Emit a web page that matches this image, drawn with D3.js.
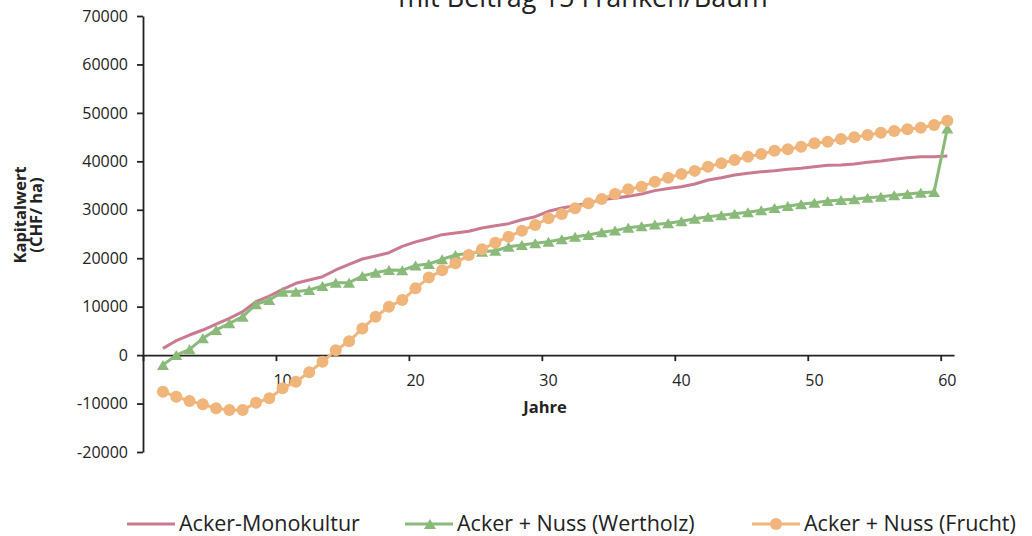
<!DOCTYPE html>
<html>
<head>
<meta charset="utf-8">
<script src="https://cdn.jsdelivr.net/npm/d3@7"></script>
<style>
  html, body { margin: 0; padding: 0; background: #fff; }
  svg { display: block; }
  text { font-family: "Open Sans", "Noto Sans", sans-serif; fill: #222; }
</style>
</head>
<body>
<svg id="chart" width="1032" height="536"></svg>
<script>
// Years shown on the category axis (0 is an empty slot before year 1)
const categories = d3.range(0, 61);
const years = d3.range(1, 61);

// Net present value per hectare (CHF/ha), years 1..60
const monokultur = [
  1400, 2980, 4150, 5180, 6420, 7590, 8960, 11020, 12200, 13580,
  14820, 15500, 16190, 17570, 18740, 19840, 20460, 21140, 22450, 23380,
  24070, 24860, 25210, 25560, 26240, 26720, 27130, 27950, 28570, 29680,
  30370, 30840, 31400, 32100, 32400, 32770, 33250, 33950, 34390, 34750,
  35320, 36150, 36600, 37180, 37530, 37860, 38070, 38360, 38560, 38890,
  39180, 39240, 39450, 39800, 40070, 40420, 40750, 40960, 40960, 41100
];
const wertholz = [
  -2040, 0, 1200, 3470, 5180, 6560, 7930, 10490, 11370, 13090,
  13090, 13440, 14260, 14950, 14950, 16330, 17010, 17570, 17500, 18500,
  18800, 19780, 20660, 21010, 21350, 21550, 22380, 22730, 23080, 23410,
  23910, 24440, 24790, 25380, 25700, 26280, 26600, 26950, 27230, 27650,
  28140, 28570, 28860, 29190, 29480, 29890, 30370, 30780, 31130, 31460,
  31810, 32020, 32160, 32490, 32700, 32990, 33260, 33530, 33650, 46800
];
const frucht = [
  -7550, -8590, -9480, -10160, -10990, -11330, -11330, -9830, -8920, -6850,
  -5490, -3520, -1360, 980, 2840, 5500, 7930, 9990, 11370, 13790,
  16000, 17500, 18950, 20660, 21840, 23200, 24440, 25680, 26860, 28240,
  29130, 30310, 31340, 32230, 33260, 34230, 34770, 35800, 36620, 37390,
  38030, 38900, 39590, 40280, 40960, 41510, 42200, 42480, 43020, 43720,
  44050, 44610, 44960, 45440, 45910, 46260, 46610, 46940, 47500, 48390
];

const yTicks = [-20000, -10000, 0, 10000, 20000, 30000, 40000, 50000, 60000, 70000];
const xTickLabels = [10, 20, 30, 40, 50, 60];

const seriesNames = ["Acker-Monokultur", "Acker + Nuss (Wertholz)", "Acker + Nuss (Frucht)"];
const colors = { mono: "#c97a8f", wert: "#89ba79", frucht: "#efb57b" };

const svg = d3.select("#chart");

const x = d3.scaleBand().domain(categories).range([143, 954]).padding(0);
const xEdge = d3.scaleLinear().domain([0, categories.length]).range([143, 954]);
const y = d3.scaleLinear().domain([-20000, 70000]).range([452, 16]);
const cx = d => x(d) + x.bandwidth() / 2;

// Title (second line of a two-line heading, top line sits above the canvas)
svg.append("text")
  .attr("x", 583).attr("y", 7)
  .attr("text-anchor", "middle")
  .style("font-size", "27px")
  .text("mit Beitrag 15 Franken/Baum");

// Y axis (plain hyphen for negative numbers)
const yAxis = svg.append("g")
  .attr("transform", "translate(143,0)")
  .call(d3.axisLeft(y).tickValues(yTicks).tickSize(6).tickSizeOuter(0).tickPadding(9).tickFormat(d => String(d)));
yAxis.select(".domain").attr("stroke", "#222").attr("stroke-width", 1.8);
yAxis.selectAll(".tick line").attr("stroke", "#222").attr("stroke-width", 1.8);
yAxis.selectAll("text").style("font-size", "16px").attr("fill", "#222");

// X axis: tick marks at category boundaries, labels at category centres
const xTicksG = svg.append("g")
  .attr("transform", `translate(0,${y(0)})`)
  .call(d3.axisBottom(xEdge).tickValues([0, 10, 20, 30, 40, 50, 60]).tickSize(6).tickSizeOuter(0).tickFormat(""));
xTicksG.select(".domain").attr("stroke", "#222").attr("stroke-width", 1.8);
xTicksG.selectAll(".tick line").attr("stroke", "#222").attr("stroke-width", 1.8);

const xLabelsG = svg.append("g")
  .attr("transform", `translate(0,${y(0)})`)
  .call(d3.axisBottom(x).tickValues(xTickLabels).tickSize(0).tickPadding(20));
xLabelsG.select(".domain").remove();
xLabelsG.selectAll("text").style("font-size", "16px").attr("fill", "#222");

// Axis titles
svg.append("text")
  .attr("x", 545).attr("y", 413)
  .attr("text-anchor", "middle")
  .style("font-size", "16.5px").style("font-weight", "bold")
  .text("Jahre");

const yTitle = svg.append("text")
  .attr("transform", "translate(20,215) rotate(-90)")
  .attr("text-anchor", "middle")
  .style("font-size", "16.5px").style("font-weight", "bold");
yTitle.append("tspan").attr("x", 0).attr("dy", "0.35em").text("Kapitalwert");
yTitle.append("tspan").attr("x", 0).attr("dy", "1.0em").text("(CHF/ ha)");

const line = d3.line().x((d, i) => cx(years[i])).y(d => y(d));

// Acker-Monokultur: plain line
svg.append("path")
  .datum(monokultur)
  .attr("d", line)
  .attr("fill", "none").attr("stroke", colors.mono).attr("stroke-width", 3)
  .attr("stroke-linejoin", "round");

// Acker + Nuss (Wertholz): line with triangles
const tri = "M0,-5L6,5L-6,5Z";
svg.append("path")
  .datum(wertholz)
  .attr("d", line)
  .attr("fill", "none").attr("stroke", colors.wert).attr("stroke-width", 3)
  .attr("stroke-linejoin", "round");
svg.append("g").selectAll("path")
  .data(wertholz)
  .join("path")
  .attr("d", tri)
  .attr("transform", (d, i) => `translate(${cx(years[i])},${y(d)})`)
  .attr("fill", colors.wert);

// Acker + Nuss (Frucht): line with circles
svg.append("path")
  .datum(frucht)
  .attr("d", line)
  .attr("fill", "none").attr("stroke", colors.frucht).attr("stroke-width", 3)
  .attr("stroke-linejoin", "round");
svg.append("g").selectAll("circle")
  .data(frucht)
  .join("circle")
  .attr("cx", (d, i) => cx(years[i]))
  .attr("cy", d => y(d))
  .attr("r", 6)
  .attr("fill", colors.frucht);

// Legend
const legendItems = [
  { name: seriesNames[0], color: colors.mono, x0: 127, marker: null },
  { name: seriesNames[1], color: colors.wert, x0: 405, marker: "tri" },
  { name: seriesNames[2], color: colors.frucht, x0: 752, marker: "circle" }
];
const lg = svg.append("g").selectAll("g").data(legendItems).join("g")
  .attr("transform", d => `translate(${d.x0},524)`);
lg.append("line")
  .attr("x1", 0).attr("x2", 48).attr("y1", 0).attr("y2", 0)
  .attr("stroke", d => d.color).attr("stroke-width", 3);
lg.filter(d => d.marker === "tri").append("path")
  .attr("d", tri).attr("transform", "translate(25,0)").attr("fill", d => d.color);
lg.filter(d => d.marker === "circle").append("circle")
  .attr("cx", 24).attr("cy", 0).attr("r", 6).attr("fill", d => d.color);
lg.append("text")
  .attr("x", 52).attr("y", 7)
  .style("font-size", "21.5px")
  .text(d => d.name);
</script>
</body>
</html>
